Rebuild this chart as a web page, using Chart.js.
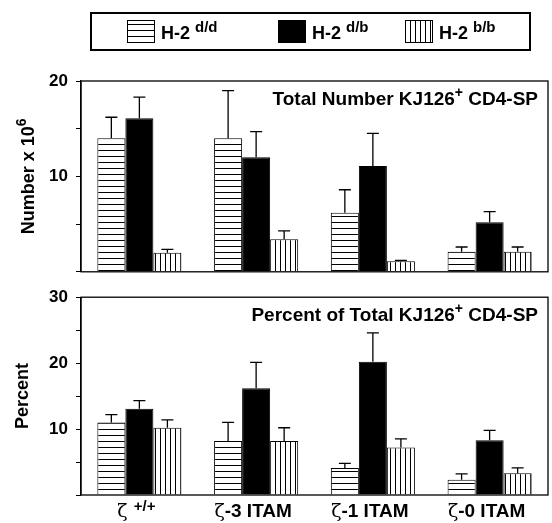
<!DOCTYPE html>
<html>
<head>
<meta charset="utf-8">
<script src="https://cdn.jsdelivr.net/npm/chart.js@4"></script>
<style>
  body { margin: 0; background: #fff; }
  #wrap { position: relative; width: 552px; height: 523px; }
  canvas { position: absolute; left: 0; }
  #numberCanvas { top: 0; }
  #percentCanvas { top: 279px; }
</style>
</head>
<body>
<div id="wrap">
  <canvas id="numberCanvas" width="552" height="290"></canvas>
  <canvas id="percentCanvas" width="552" height="244"></canvas>
</div>
<script>
// categories
var groups = ['ζ +/+', 'ζ-3 ITAM', 'ζ-1 ITAM', 'ζ-0 ITAM'];
var strains = ['d/d', 'd/b', 'b/b'];

// top panel: Number x 10^6 (mean and upper error)
var numberDD = [14.0, 14.0, 6.2, 2.1];
var numberDB = [16.1, 12.0, 11.1, 5.2];
var numberBB = [2.0, 3.4, 1.1, 2.1];
var numberErrDD = [2.2, 5.0, 2.4, 0.5];
var numberErrDB = [2.2, 2.7, 3.4, 1.1];
var numberErrBB = [0.35, 0.9, 0.1, 0.5];

// bottom panel: Percent
var percentDD = [11.0, 8.2, 4.1, 2.3];
var percentDB = [13.1, 16.2, 20.2, 8.3];
var percentBB = [10.2, 8.2, 7.2, 3.3];
var percentErrDD = [1.2, 2.8, 0.7, 0.9];
var percentErrDB = [1.2, 3.9, 4.4, 1.5];
var percentErrBB = [1.2, 2.0, 1.3, 0.8];

// tick labels
var numberTicks = [10, 20];
var percentTicks = [10, 20, 30];

var FONT = '"Liberation Sans", Arial, sans-serif';

function makePattern(vertical) {
    var c = document.createElement('canvas');
    var n = vertical ? 5 : 6;
    c.width = n; c.height = n;
    var g = c.getContext('2d');
    g.fillStyle = '#fff';
    g.fillRect(0, 0, n, n);
    g.fillStyle = '#000';
    if (vertical) g.fillRect(0, 0, 1, n);
    else g.fillRect(0, 0, n, 1);
    return g.createPattern(c, 'repeat');
}
var hPat = makePattern(false);
var vPat = makePattern(true);
var fills = [hPat, '#000', vPat];

function buildDatasets(dd, db, bb, edd, edb, ebb) {
    var vals = [dd, db, bb];
    var errs = [edd, edb, ebb];
    return strains.map(function (s, i) {
        return {
            label: 'H-2 ' + s,
            data: vals[i],
            errors: errs[i],
            backgroundColor: fills[i],
            borderColor: '#000',
            borderWidth: 1,
            categoryPercentage: 0.72,
            barPercentage: 1.0
        };
    });
}

// error bars (upward only, with cap)
var errorBars = {
    id: 'errorBars',
    afterDatasetsDraw: function (chart) {
        var ctx = chart.ctx;
        var y = chart.scales.y;
        ctx.save();
        ctx.strokeStyle = '#000';
        ctx.lineWidth = 1.3;
        chart.data.datasets.forEach(function (ds, i) {
            var meta = chart.getDatasetMeta(i);
            meta.data.forEach(function (bar, j) {
                var top = y.getPixelForValue(ds.data[j] + ds.errors[j]);
                ctx.beginPath();
                ctx.moveTo(bar.x, bar.y);
                ctx.lineTo(bar.x, top);
                ctx.moveTo(bar.x - 6, top);
                ctx.lineTo(bar.x + 6, top);
                ctx.stroke();
            });
        });
        ctx.restore();
    }
};

// frame around plot area
var frame = {
    id: 'frame',
    afterDraw: function (chart) {
        var a = chart.chartArea, ctx = chart.ctx;
        ctx.save();
        ctx.strokeStyle = '#000';
        ctx.lineWidth = 1.3;
        ctx.strokeRect(a.left, a.top, a.right - a.left, a.bottom - a.top);
        ctx.restore();
    }
};

// text with superscript: parts = [[text, font, dy], ...]
function drawParts(ctx, parts, x, y, align) {
    var w = 0;
    parts.forEach(function (p) { ctx.font = p[1]; w += ctx.measureText(p[0]).width; });
    var cx = align === 'right' ? x - w : (align === 'center' ? x - w / 2 : x);
    parts.forEach(function (p) {
        ctx.font = p[1];
        ctx.fillText(p[0], cx, y + (p[2] || 0));
        cx += ctx.measureText(p[0]).width;
    });
}

function panelText(title, yTitle, yTitleX) {
    return {
        id: 'panelText',
        afterDraw: function (chart) {
            var ctx = chart.ctx, a = chart.chartArea;
            ctx.save();
            ctx.fillStyle = '#000';
            ctx.textBaseline = 'alphabetic';
            ctx.textAlign = 'left';
            drawParts(ctx, title, a.right - 10, a.top + 24, 'right');
            ctx.translate(yTitleX, (a.top + a.bottom) / 2);
            ctx.rotate(-Math.PI / 2);
            drawParts(ctx, yTitle, 0, 6, 'center');
            ctx.restore();
        }
    };
}

var B19 = 'bold 19px ' + FONT;
var B18 = 'bold 18px ' + FONT;
var B14 = 'bold 14px ' + FONT;

// legend drawn above the top panel
var legendBox = {
    id: 'legendBox',
    afterDraw: function (chart) {
        var ctx = chart.ctx;
        ctx.save();
        ctx.strokeStyle = '#000';
        ctx.lineWidth = 2;
        ctx.strokeRect(91, 13, 439, 37);
        var xs = [127, 278, 405];
        chart.data.datasets.forEach(function (ds, i) {
            ctx.fillStyle = ds.backgroundColor;
            ctx.fillRect(xs[i], 20, 27, 22);
            ctx.lineWidth = 1;
            ctx.strokeRect(xs[i] + 0.5, 20.5, 27, 22);
            ctx.fillStyle = '#000';
            ctx.textAlign = 'left';
            drawParts(ctx, [['H-2 ', 'bold 18px ' + FONT, 0], [strains[i], 'bold 15px ' + FONT, -7]], xs[i] + 34, 39, 'left');
        });
        ctx.restore();
    }
};

// x labels with Greek zeta in regular weight
var xLabels = {
    id: 'xLabels',
    afterDraw: function (chart) {
        var ctx = chart.ctx, x = chart.scales.x;
        ctx.save();
        ctx.fillStyle = '#000';
        ctx.textAlign = 'left';
        groups.forEach(function (g, i) {
            var px = x.getPixelForValue(i);
            var rest = g.slice(1);
            var parts;
            if (rest.trim() === '+/+') {
                parts = [['ζ ', '19px "DejaVu Serif", serif', 0], ['+/+', 'bold 15px ' + FONT, -6]];
            } else {
                parts = [['ζ', '19px "DejaVu Serif", serif', 0], [rest, 'bold 19px ' + FONT, 0]];
            }
            drawParts(ctx, parts, px - 3, chart.height - 6, 'center');
        });
        ctx.restore();
    }
};

function yScale(max, labels) {
    return {
        min: 0,
        max: max,
        ticks: {
            stepSize: 5,
            color: '#000',
            padding: 8,
            font: { family: FONT, size: 17, weight: 'bold' },
            callback: function (v) { return labels.indexOf(v) >= 0 ? String(v) : ''; }
        },
        grid: { drawOnChartArea: false, color: '#000', tickLength: 5, tickWidth: 1 },
        border: { display: true, color: '#000', width: 1.3 },
        afterFit: function (s) { s.width = 81; }
    };
}

var numberChart = new Chart(document.getElementById('numberCanvas'), {
    type: 'bar',
    data: {
        labels: groups,
        datasets: buildDatasets(numberDD, numberDB, numberBB, numberErrDD, numberErrDB, numberErrBB)
    },
    options: {
        responsive: false,
        animation: false,
        devicePixelRatio: 1,
        layout: { padding: { top: 81, right: 4, bottom: 11, left: 0 } },
        plugins: { legend: { display: false }, tooltip: { enabled: false } },
        scales: {
            x: { display: false },
            y: yScale(20, numberTicks)
        }
    },
    plugins: [errorBars, frame, legendBox,
        panelText([['Total Number KJ126', B19, 0], ['+', B14, -8], [' CD4-SP', B19, 0]],
                  [['Number x 10', B18, 0], ['6', B14, -8]], 28)]
});

var percentChart = new Chart(document.getElementById('percentCanvas'), {
    type: 'bar',
    data: {
        labels: groups,
        datasets: buildDatasets(percentDD, percentDB, percentBB, percentErrDD, percentErrDB, percentErrBB)
    },
    options: {
        responsive: false,
        animation: false,
        devicePixelRatio: 1,
        layout: { padding: { top: 0, right: 4, bottom: 0, left: 0 } },
        plugins: { legend: { display: false }, tooltip: { enabled: false } },
        scales: {
            x: {
                ticks: { display: false },
                grid: { display: false },
                border: { display: false },
                afterFit: function (s) { s.height = 28; }
            },
            y: yScale(30, percentTicks)
        }
    },
    plugins: [errorBars, frame, xLabels,
        panelText([['Percent of Total KJ126', B19, 0], ['+', B14, -8], [' CD4-SP', B19, 0]],
                  [['Percent', B18, 0]], 22)]
});
</script>
</body>
</html>
